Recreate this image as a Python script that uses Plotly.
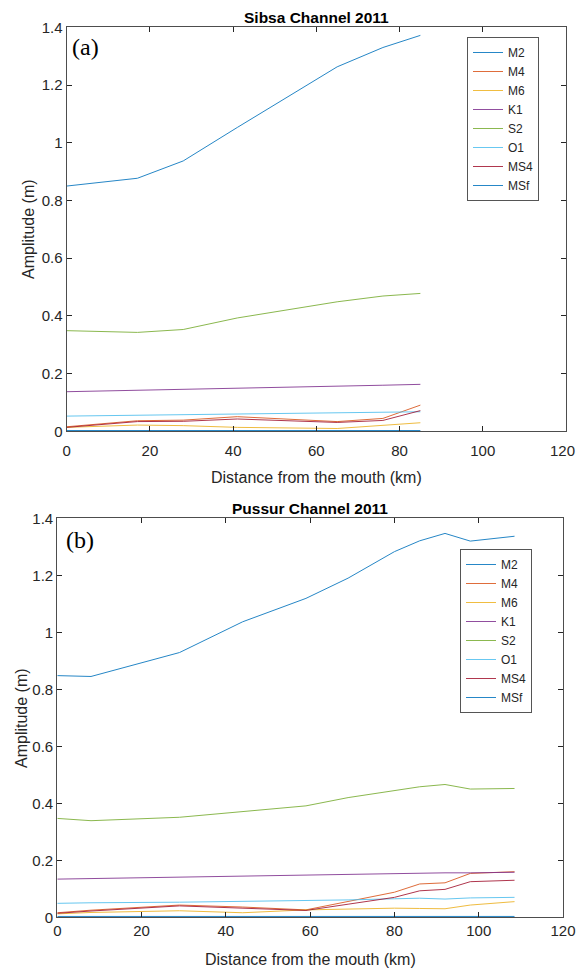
import plotly.graph_objects as go

# ---------- data ----------
names = ["M2", "M4", "M6", "K1", "S2", "O1", "MS4", "MSf"]
colors = ["#0072BD", "#D95319", "#EDB120", "#7E2F8E", "#77AC30", "#4DBEEE", "#A2142F", "#0072BD"]

# (a) Sibsa Channel 2011
sibsa_x = [0, 17, 28, 41, 65, 76, 85]
sibsa_M2 = [0.850, 0.877, 0.937, 1.053, 1.263, 1.330, 1.372]
sibsa_M4 = [0.016, 0.037, 0.039, 0.051, 0.034, 0.045, 0.091]
sibsa_M6 = [0.014, 0.022, 0.020, 0.014, 0.010, 0.022, 0.030]
sibsa_K1 = [0.1375, 0.142, 0.145, 0.150, 0.157, 0.160, 0.163]
sibsa_S2 = [0.349, 0.343, 0.353, 0.393, 0.449, 0.469, 0.478]
sibsa_O1 = [0.053, 0.056, 0.058, 0.061, 0.064, 0.066, 0.068]
sibsa_MS4 = [0.014, 0.034, 0.035, 0.043, 0.031, 0.038, 0.072]
sibsa_MSf = [0.003, 0.003, 0.003, 0.003, 0.003, 0.003, 0.003]

# (b) Pussur Channel 2011
pussur_x = [0, 8, 29, 44, 59, 69, 80, 86, 92, 98, 108.5]
pussur_M2 = [0.848, 0.845, 0.929, 1.037, 1.119, 1.190, 1.283, 1.321, 1.347, 1.320, 1.337]
pussur_M4 = [0.016, 0.025, 0.043, 0.036, 0.026, 0.055, 0.088, 0.117, 0.121, 0.154, 0.160]
pussur_M6 = [0.012, 0.017, 0.023, 0.016, 0.026, 0.030, 0.032, 0.031, 0.030, 0.043, 0.055]
pussur_K1 = [0.134, 0.136, 0.141, 0.145, 0.149, 0.152, 0.154, 0.155, 0.156, 0.156, 0.158]
pussur_S2 = [0.347, 0.339, 0.351, 0.372, 0.391, 0.420, 0.445, 0.458, 0.466, 0.450, 0.452]
pussur_O1 = [0.049, 0.051, 0.053, 0.056, 0.058, 0.061, 0.065, 0.067, 0.064, 0.068, 0.070]
pussur_MS4 = [0.014, 0.022, 0.040, 0.032, 0.024, 0.046, 0.070, 0.093, 0.098, 0.125, 0.130]
pussur_MSf = [0.003, 0.003, 0.003, 0.003, 0.003, 0.003, 0.003, 0.003, 0.003, 0.003, 0.003]

x_ticks = [0, 20, 40, 60, 80, 100, 120]
x_ticklabels_top = ["0", "20", "40", "60", "80", "100", ""]   # "120" drawn flush with the page edge
x_ticklabels_bot = ["0", "20", "40", "60", "80", "100", "120"]
y_ticks = [0, 0.2, 0.4, 0.6, 0.8, 1.0, 1.2, 1.4]
y_ticklabels = ["0", "0.2", "0.4", "0.6", "0.8", "1", "1.2", "1.4"]

sibsa = [sibsa_M2, sibsa_M4, sibsa_M6, sibsa_K1, sibsa_S2, sibsa_O1, sibsa_MS4, sibsa_MSf]
pussur = [pussur_M2, pussur_M4, pussur_M6, pussur_K1, pussur_S2, pussur_O1, pussur_MS4, pussur_MSf]

# ---------- figure ----------
W, H = 576, 968
fig = go.Figure()
for n, c, ys in zip(names, colors, sibsa):
    fig.add_trace(go.Scatter(x=sibsa_x, y=ys, name=n, mode="lines",
                             line=dict(color=c, width=1), opacity=0.85,
                             xaxis="x", yaxis="y", legend="legend"))
for n, c, ys in zip(names, colors, pussur):
    fig.add_trace(go.Scatter(x=pussur_x, y=ys, name=n, mode="lines",
                             line=dict(color=c, width=1), opacity=0.85,
                             xaxis="x2", yaxis="y2", legend="legend2"))

axcol = "#4d4d4d"
tickfont = dict(family="Liberation Sans, Arial", size=15, color="#262626")

def xax(domain, anchor, labels, standoff):
    return dict(domain=domain, anchor=anchor, range=[0, 120], tickvals=x_ticks,
                ticktext=labels, ticklabelstandoff=standoff,
                ticks="inside", ticklen=5, tickcolor="#262626", mirror="ticks",
                showline=True, linecolor=axcol, linewidth=1.2, showgrid=False,
                zeroline=False, tickfont=tickfont, automargin=False,
                ticklabeloverflow="allow")

def yax(domain, anchor):
    return dict(domain=domain, anchor=anchor, range=[0, 1.4], tickvals=y_ticks,
                ticktext=y_ticklabels, ticks="inside", ticklen=5, tickcolor="#262626",
                mirror="ticks", showline=True, linecolor=axcol, linewidth=1.2,
                showgrid=False, zeroline=False, tickfont=tickfont, automargin=False,
                ticklabeloverflow="allow")

def px_x(p):
    return p / W

def px_y(p):
    return 1 - p / H

top_xd = [px_x(66.7), px_x(566)]
top_yd = [px_y(431.4), px_y(27.3)]
bot_xd = [px_x(57.3), px_x(563)]
bot_yd = [px_y(917.3), px_y(518.3)]

legend_common = dict(font=dict(family="Liberation Sans, Arial", size=12, color="#262626"),
                     bordercolor="#555555", borderwidth=1, bgcolor="white",
                     xanchor="left", yanchor="top", xref="paper", yref="paper",
                     tracegroupgap=0, itemwidth=30)

fig.update_layout(
    width=W, height=H,
    margin=dict(l=0, r=0, t=0, b=0),
    paper_bgcolor="white", plot_bgcolor="white",
    xaxis=xax(top_xd, "y", x_ticklabels_top, 5), yaxis=yax(top_yd, "x"),
    xaxis2=xax(bot_xd, "y2", x_ticklabels_bot, 0), yaxis2=yax(bot_yd, "x2"),
    legend=dict(x=px_x(467), y=px_y(37), **legend_common),
    legend2=dict(x=px_x(460), y=px_y(549), **legend_common),
    showlegend=True,
)

ann = []
titlefont = dict(family="Liberation Sans, Arial", size=15.5, color="#000000")
labfont = dict(family="Liberation Sans, Arial", size=16, color="#262626")
ann.append(dict(text="<b>Sibsa Channel 2011</b>", x=px_x(316), y=px_y(17), xref="paper", yref="paper",
                showarrow=False, font=titlefont, xanchor="center", yanchor="middle"))
ann.append(dict(text="<b>Pussur Channel 2011</b>", x=px_x(310), y=px_y(508), xref="paper", yref="paper",
                showarrow=False, font=titlefont, xanchor="center", yanchor="middle"))
ann.append(dict(text="Distance from the mouth (km)", x=px_x(316), y=px_y(477), xref="paper", yref="paper",
                showarrow=False, font=labfont, xanchor="center", yanchor="middle"))
ann.append(dict(text="Distance from the mouth (km)", x=px_x(310), y=px_y(959), xref="paper", yref="paper",
                showarrow=False, font=labfont, xanchor="center", yanchor="middle"))
ann.append(dict(text="Amplitude (m)", x=px_x(29), y=px_y(229), xref="paper", yref="paper",
                showarrow=False, font=labfont, textangle=-90, xanchor="center", yanchor="middle"))
ann.append(dict(text="Amplitude (m)", x=px_x(21), y=px_y(718), xref="paper", yref="paper",
                showarrow=False, font=labfont, textangle=-90, xanchor="center", yanchor="middle"))
# top panel's last x tick label, kept inside the page
ann.append(dict(text="120", x=1.0, y=px_y(451), xref="paper", yref="paper",
                showarrow=False, font=tickfont, xanchor="right", yanchor="middle", borderpad=0))
serif = dict(family="Liberation Serif, Times New Roman", size=24, color="#000000")
ann.append(dict(text="(a)", x=px_x(70), y=px_y(47), xref="paper", yref="paper",
                showarrow=False, font=serif, xanchor="left", yanchor="middle"))
ann.append(dict(text="(b)", x=px_x(64), y=px_y(540), xref="paper", yref="paper",
                showarrow=False, font=serif, xanchor="left", yanchor="middle"))
fig.update_layout(annotations=ann)

fig.write_html("out.html", config={"displayModeBar": False},
               post_script="document.body.style.margin='0';document.body.style.overflow='hidden';")
